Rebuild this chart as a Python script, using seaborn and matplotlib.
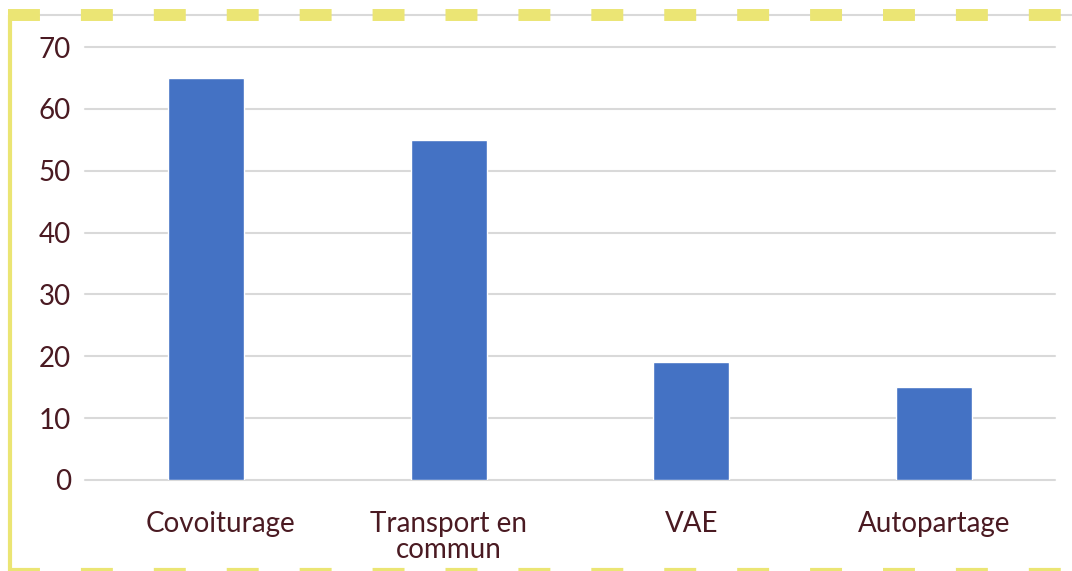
import matplotlib
matplotlib.use('Agg')
import matplotlib.pyplot as plt
import matplotlib.transforms as mtransforms
from matplotlib.lines import Line2D
import seaborn as sns
import pandas as pd

# Chart data
categories = ['Covoiturage', 'Transport en\ncommun', 'VAE', 'Autopartage']
values = [65, 55, 19, 15]
y_ticks = [0, 10, 20, 30, 40, 50, 60, 70]

text_color = '#4a1a22'
bar_color = '#4472c4'
grid_color = '#d9d9d9'
frame_yellow = '#ebe574'

sns.set_theme(style='white')
plt.rcParams['font.family'] = ['Lato', 'DejaVu Sans']
plt.rcParams['lines.scale_dashes'] = False

df = pd.DataFrame({'cat': categories, 'val': values})

fig = plt.figure(figsize=(10.72, 5.71), dpi=100)
ax = fig.add_axes([85 / 1072, 1 - 480 / 571, 970 / 1072, (480 - 47) / 571])

sns.barplot(data=df, x='cat', y='val', color=bar_color, width=0.315,
            saturation=1, ax=ax, zorder=3)

ax.set_ylim(0, 70)
ax.set_yticks(y_ticks)
ax.set_xlim(-0.5, 3.5)
ax.set_xlabel('')
ax.set_ylabel('')
for y in y_ticks:
    ax.axhline(y, color=grid_color, lw=1.5, zorder=1, clip_on=False)
for s in ax.spines.values():
    s.set_visible(False)
ax.tick_params(axis='y', length=0, pad=10, labelsize=20, labelcolor=text_color)
ax.tick_params(axis='x', length=0, pad=22, labelsize=20, labelcolor=text_color)
for lab in ax.get_xticklabels():
    lab.set_linespacing(1.0)
    lab.set_verticalalignment('top')

# first label sits a bit right of its bar in the original
shift = mtransforms.ScaledTranslation(14 / 100, 0, fig.dpi_scale_trans)
first = ax.get_xticklabels()[0]
first.set_transform(first.get_transform() + shift)

# decorative frame: grey top rule with yellow dashes, solid yellow left edge
ytop = 1 - 15 / 571
fig.add_artist(Line2D([10 / 1072, 1], [ytop, ytop], transform=fig.transFigure,
                      color=grid_color, lw=1.5))
fig.add_artist(Line2D([8 / 1072, 1], [ytop, ytop], transform=fig.transFigure,
                      color=frame_yellow, lw=8.6, dashes=(23, 29.5),
                      solid_capstyle='butt', dash_capstyle='butt'))
fig.add_artist(Line2D([8 / 1072, 1], [1 / 571, 1 / 571], transform=fig.transFigure,
                      color=frame_yellow, lw=3, dashes=(23, 29.5),
                      dash_capstyle='butt'))
fig.add_artist(Line2D([10 / 1072, 10 / 1072], [0, ytop], transform=fig.transFigure,
                      color=frame_yellow, lw=3, solid_capstyle='butt'))

fig.savefig('out.png', dpi=100)
